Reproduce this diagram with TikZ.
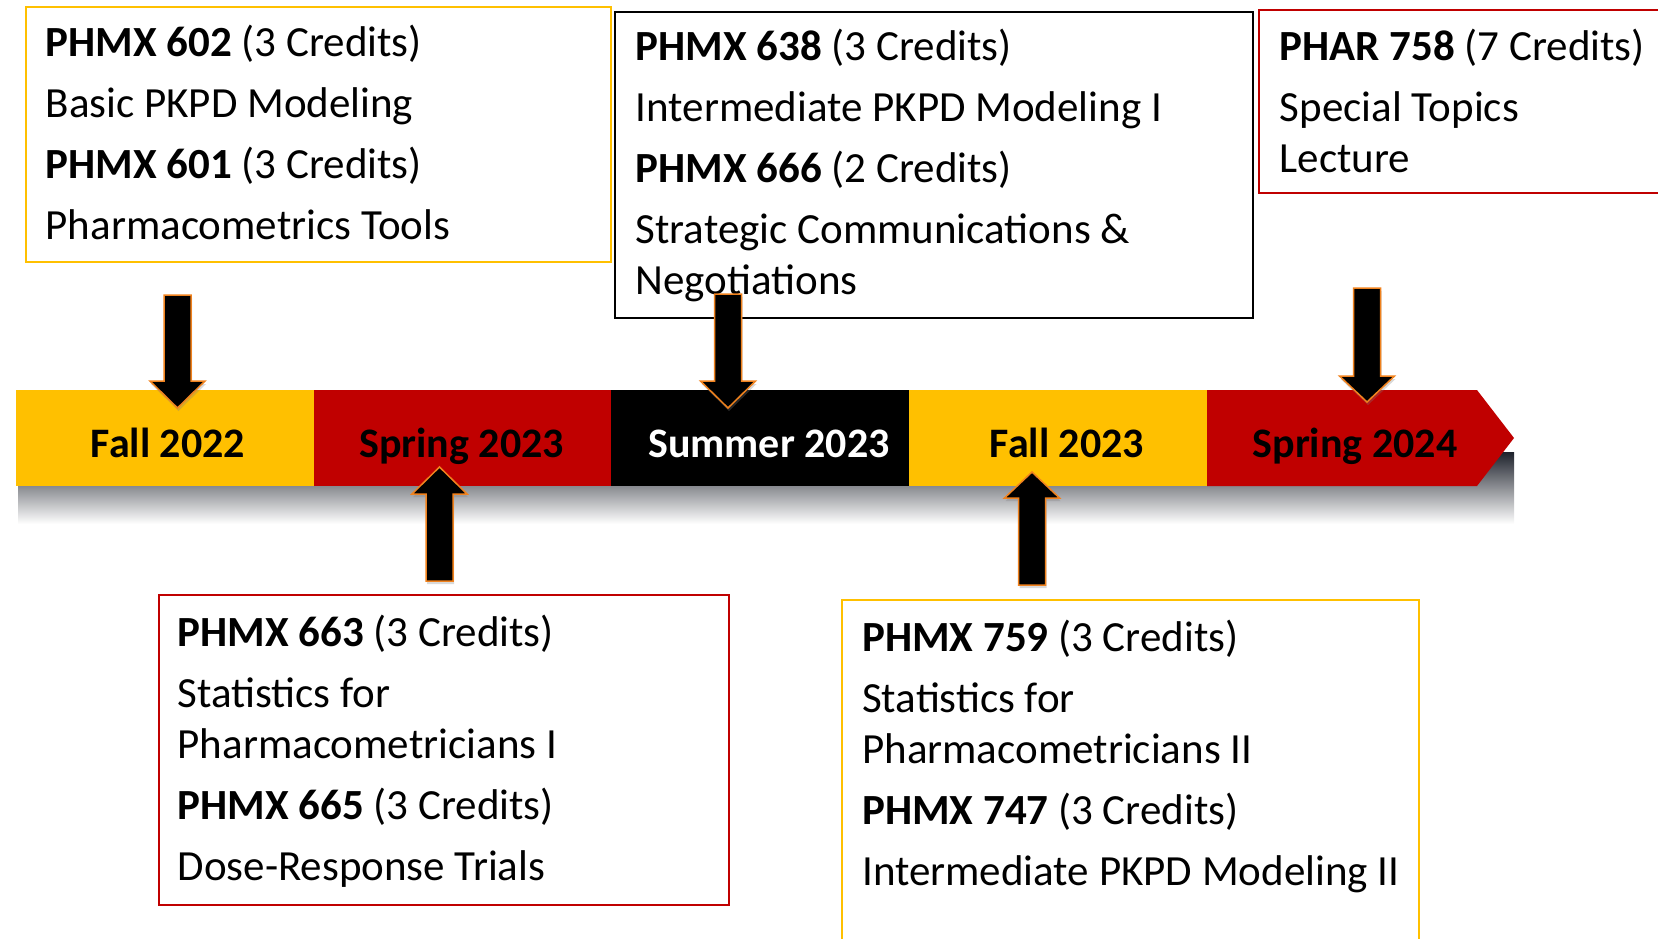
\documentclass[tikz,border=0pt]{standalone}
\usepackage{fontspec}
\setmainfont{Carlito}
\usetikzlibrary{shadows}

\definecolor{termgold}{RGB}{255,192,0}
\definecolor{termred}{RGB}{192,0,0}
\definecolor{arrowedge}{RGB}{240,130,30}
\definecolor{barshadow}{RGB}{30,34,44}

\tikzstyle{coursebox}=[line width=2pt,
                       fill=white]
% anchored at the baseline of the last line
\tikzstyle{coursetext}=[anchor=base west,
                        inner sep=0pt,
                        align=left,
                        font=\fontsize{43}{51}\selectfont]
\tikzstyle{termlabel}=[anchor=base,
                       inner sep=0pt,
                       font=\fontsize{42}{48}\selectfont\bfseries]
\tikzstyle{blockarrow}=[fill=black,
                        draw=arrowedge,
                        line width=1.5pt,
                        drop shadow={shadow xshift=1pt, shadow yshift=-3pt, opacity=0.3}]

% x, tail y, head base y, tip y
\newcommand{\termarrow}[4]{%
    \draw[blockarrow] (#1-13.5,#2) -- (#1+13.5,#2) -- (#1+13.5,#3) -- (#1+27.5,#3)
        -- (#1,#4) -- (#1-27.5,#3) -- (#1-13.5,#3) -- cycle;}

\begin{document}
\begin{tikzpicture}[x=1pt, y=-1pt]
    \useasboundingbox (0,0) rectangle (1658,938);
    \clip (0,0) rectangle (1658,938);

    % course boxes
    \draw[coursebox, draw=termgold] (26,7) rectangle (611,262);
    \draw[coursebox, draw=black, line width=2.5pt] (615,12) rectangle (1253,318);
    \draw[coursebox, draw=termred] (1259,9.5) rectangle (1670,193);
    \draw[coursebox, draw=termred] (158.5,595) rectangle (728.5,905);
    \draw[coursebox, draw=termgold] (841.5,600) rectangle (1419,950);

    \node [coursetext] (phmx602) at (45.5,239) {\textbf{PHMX 602} (3 Credits)\\[10pt] Basic PKPD Modeling\\[10pt]
        \textbf{PHMX 601} (3 Credits)\\[10pt] Pharmacometrics Tools};
    \node [coursetext] (phmx638) at (635.5,294) {\textbf{PHMX 638} (3 Credits)\\[10pt] Intermediate PKPD Modeling I\\[10pt]
        \textbf{PHMX 666} (2 Credits)\\[10pt] Strategic Communications \&\\ Negotiations};
    \node [coursetext] (phar758) at (1279.5,172) {\textbf{PHAR 758} (7 Credits)\\[10pt] Special Topics\\ Lecture};
    \node [coursetext] (phmx663) at (177.5,880) {\textbf{PHMX 663} (3 Credits)\\[10pt] Statistics for\\ Pharmacometricians I\\[10pt]
        \textbf{PHMX 665} (3 Credits)\\[10pt] Dose-Response Trials};
    \node [coursetext] (phmx759) at (862,885) {\textbf{PHMX 759} (3 Credits)\\[10pt] Statistics for\\ Pharmacometricians II\\[10pt]
        \textbf{PHMX 747} (3 Credits)\\[10pt] Intermediate PKPD Modeling II};

    % timeline bar
    \shade[top color=barshadow, middle color=barshadow!55, bottom color=white] (18,452) rectangle (1514,524);
    \foreach \xa/\xb/\c in {16/314/termgold, 314/611/termred, 611/909/black, 909/1207/termgold}
        \fill[\c] (\xa,390) rectangle (\xb,486);
    \fill[termred] (1207,390) -- (1477,390) -- (1514,438) -- (1477,486) -- (1207,486) -- cycle;

    \node [termlabel] (fall22) at (168,457) {Fall 2022};
    \node [termlabel] (spring23) at (461.5,457) {Spring 2023};
    \node [termlabel, white] (summer23) at (769,457) {Summer 2023};
    \node [termlabel] (fall23) at (1067,457) {Fall 2023};
    \node [termlabel] (spring24) at (1355,457) {Spring 2024};

    % arrows
    \termarrow{177.5}{295}{381}{408}
    \termarrow{439.5}{581}{494}{467}
    \termarrow{728}{294}{381}{408}
    \termarrow{1032}{585}{498}{472}
    \termarrow{1367}{288}{376}{402}
\end{tikzpicture}
\end{document}
